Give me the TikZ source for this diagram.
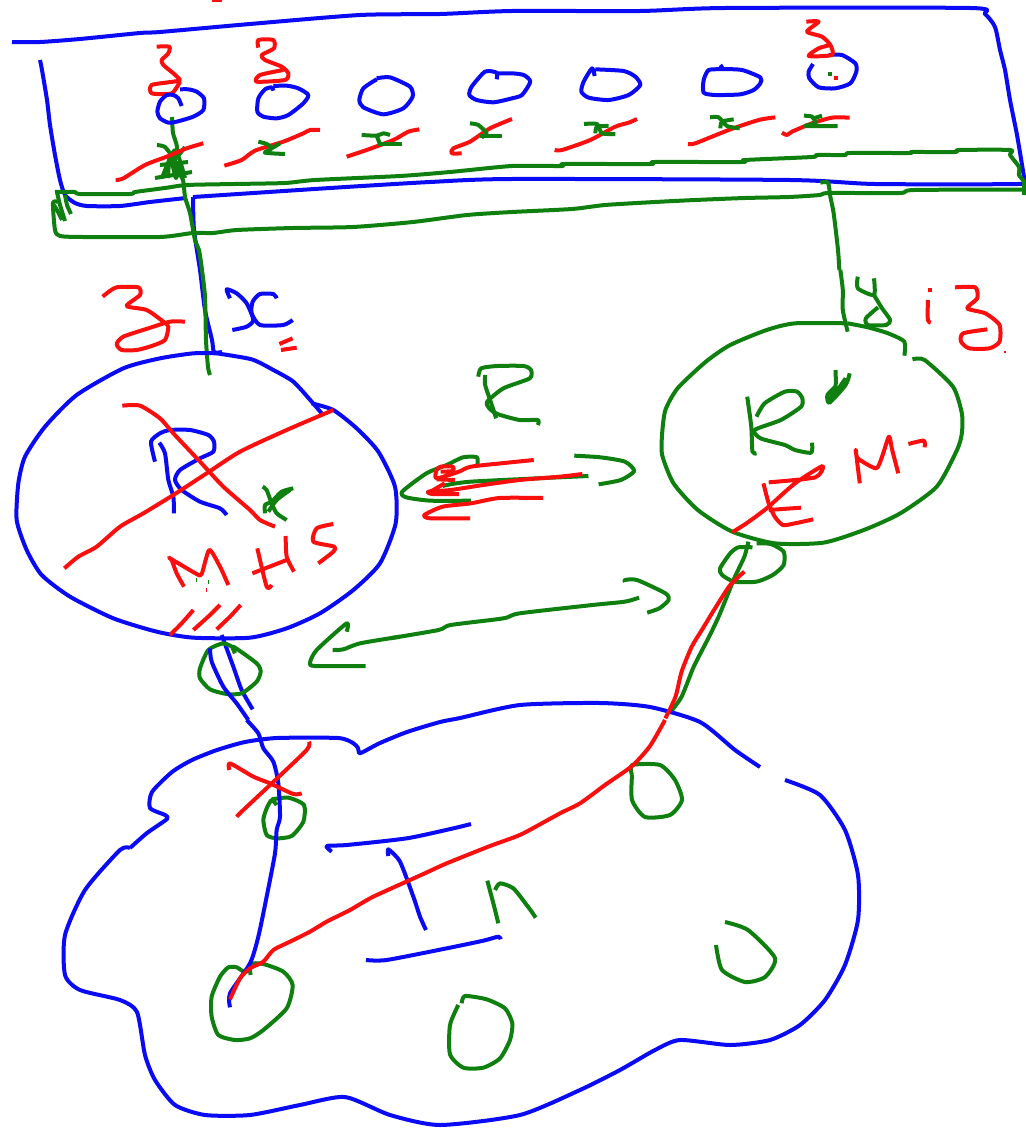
\documentclass[tikz,border=0pt]{standalone}
\definecolor{inkb}{RGB}{10,10,245}
\definecolor{inkg}{RGB}{15,128,15}
\definecolor{inkr}{RGB}{250,15,15}
\tikzset{
 pen/.style={line width=4pt,line join=round,line cap=butt},
 bb/.style={pen,draw=inkb},
 gg/.style={pen,draw=inkg},
 rr/.style={pen,draw=inkr},
 za/.style={xscale=0.33333,yscale=0.33333},
 zb/.style={shift={(512,0)},xscale=0.33333,yscale=0.33333},
 zc/.style={shift={(0,270)},xscale=0.33333,yscale=0.33333},
 zd/.style={shift={(390,270)},xscale=0.405,yscale=0.33333},
 ze/.style={shift={(130,720)},xscale=0.33333,yscale=0.33333}
}
\newcommand{\pl}[2]{\draw[#1] plot[smooth,tension=0.4] coordinates {#2};}
\begin{document}
\begin{tikzpicture}[x=1pt,y=-1pt]
\useasboundingbox (0,0) rectangle (1025,1129);
\fill[white] (0,0) rectangle (1025,1129);
% top box
\pl{bb}{(12,42)(40,42)(80,39)(140,33)(160,32)(250,24)(360,15)(440,14)(512,11)(640,11)(725,8)(970,8)(985,14)(995,27)(1000,50)(1005,70)(1010,100)(1017,135)(1022,165)(1024,180)(1018,184)(875,184)(790,180)(512,179)(430,182)(330,188)(193,197)}
\pl{bb}{(193,197)(194,230)(200,270)(205,310)(212,340)(214,352)(222,352)}
\pl{bb}{(40,60)(42,70)(47,100)(50,125)(55,155)(60,180)(65,195)(75,203)(87,206)(120,206)(150,202)(186,198)}
% top green band
\pl{gg}{(55,192)(75,192)(80,194)(130,194)(135,192)(165,188)(187,185)(235,184)(285,183)(315,180)(400,176)(450,172)(512,166)(562,166)(565,164)(650,164)(655,162)(742,162)(745,160)(812,157)(817,155)(845,155)(850,153)(909,153)(912,152)(955,152)(959,150)(1010,150)(1010,155)(1019,167)(1019,175)(1024,182)(1024,195)}
\pl{gg}{(1024,189.5)(914,190)(900,193)(829,193)(820,195)(789,197)(745,198)(695,200)(655,202)(605,205)(572,209)(512,212)(467,215)(413,222)(353,227)(293,228)(237,230)(213,233)(193,233)(160,237)(83,237)(60,236)(55,230)(53,203)(58,202)}
\pl{gg}{(57,192)(60,205)(65,221)}
\pl{gg}{(65,195)(67,205)(71,214)}
\pl{gg}{(54,205)(58,212)(62,220)}
\pl{gg}{(172,117)(173,133)(177,147)(175,165)(183,180)(185,197)(190,213)(195,240)(199,250)(202,270)(205,297)(206,340)(208,367)(210,375)}
\pl{gg}{(157,145)(165,147)(175,158)(185,147)}
\pl{gg}{(155,178)(192,172)}
\pl{gg}{(160,165)(188,162)}
\pl{gg}{(162,178)(175,150)(185,178)}
\pl{gg}{(168,178)(170,155)(176,178)(180,160)}
\pl{gg}{(165,172)(172,160)(182,172)}
% red bars
\begin{scope}[za]
\pl{rr}{(347,540)(370,535)(435,495)(500,470)(560,445)(610,430)}
\pl{rr}{(673,497)(725,480)(765,452)(850,425)(910,400)(930,390)(960,390)}
\pl{rr}{(1040,470)(1100,450)(1180,420)(1225,395)(1258,388)}
\pl{rr}{(1385,460)(1355,460)(1360,445)(1410,425)(1470,385)(1536,357)}
\pl{gg}{(775,425)(800,432)(815,445)(795,458)(855,462)}
\pl{gg}{(815,445)(840,430)}
\pl{gg}{(1085,405)(1130,407)(1150,400)(1170,405)}
\pl{gg}{(1130,407)(1140,433)}
\pl{gg}{(1135,432)(1205,432)}
\pl{gg}{(1410,370)(1435,375)(1460,400)(1445,412)}
\pl{gg}{(1440,407)(1505,407)}
\pl{rr}{(470,140)(508,140)(505,160)(485,180)(490,195)(520,220)(540,240)(520,245)(455,255)(455,280)(515,280)(540,245)}
\pl{rr}{(775,143)(775,120)(820,120)(822,145)(785,165)(795,180)(845,200)(865,220)(855,240)(770,245)(780,225)(850,210)}
\pl{bb}{(545,318)(535,295)(520,285)(500,285)(480,305)(472,335)(480,355)(505,368)(530,365)(580,350)(610,330)(612,295)(590,275)(565,268)(540,268)}
\pl{bb}{(820,272)(815,262)(795,268)(775,295)(772,335)(790,350)(830,355)(865,345)(910,310)(925,285)(895,265)(860,257)(820,258)}
\pl{bb}{(1130,235)(1170,232)(1230,260)(1238,290)(1210,325)(1150,343)(1090,322)(1078,300)(1090,265)(1130,238)}
\pl{bb}{(1490,238)(1490,218)(1455,215)(1415,260)(1408,285)(1430,300)(1480,307)(1536,295)(1566,285)(1591,245)(1571,225)(1536,220)(1490,220)}
\end{scope}
\begin{scope}[zb]
\pl{rr}{(128,450)(150,450)(235,420)(310,380)(350,368)(375,357)}
\pl{rr}{(528,432)(550,430)(650,390)(740,360)(790,352)}
\pl{rr}{(810,398)(825,405)(840,395)(900,370)(960,353)(1013,353)}
\pl{gg}{(216,372)(255,372)(270,400)(310,402)}
\pl{gg}{(290,378)(255,380)(250,400)}
\pl{gg}{(594,352)(620,352)(645,378)(683,385)}
\pl{gg}{(665,358)(630,365)(625,385)}
\pl{gg}{(876,347)(900,350)(910,370)(880,378)(977,378)}
\pl{gg}{(930,347)(905,355)}
\pl{bb}{(248,228)(240,205)(215,245)(208,275)(230,293)(290,300)(350,285)(385,255)(370,230)(335,213)(250,208)}
\pl{bb}{(625,195)(630,207)(590,210)(575,240)(575,278)(610,285)(685,283)(725,270)(745,250)(745,232)(690,210)(630,207)}
\pl{bb}{(903,192)(890,215)(892,235)(920,262)(970,265)(1015,250)(1033,215)(1030,190)(990,165)(950,165)}
\pl{rr}{(883,65)(920,65)(885,95)(930,110)(955,135)(960,165)(890,168)(920,145)(955,135)}
\fill[inkg] (948,216) rectangle (960,228);
\fill[inkr] (966,228) rectangle (978,240);
\pl{gg}{(925,548)(948,548)(955,590)(965,640)(978,750)(982,810)}
\end{scope}
\fill[inkr] (212,0) rectangle (222,2);
% left circle
\begin{scope}[zc]
\pl{rr}{(308,80)(320,70)(350,52)(415,52)(420,75)(380,108)(440,120)(490,155)(505,170)(495,210)(455,228)(410,240)(365,240)(350,222)(370,200)(445,175)(510,155)(555,155)}
\pl{bb}{(690,85)(680,58)(710,70)(740,100)(760,150)(740,170)(697,180)}
\pl{bb}{(830,85)(820,72)(780,72)(758,95)(755,130)(780,165)(850,165)(878,150)}
\pl{rr}{(838,222)(878,205)}
\pl{rr}{(843,240)(890,233)}
\pl{bb}{(650,250)(755,268)(820,300)(880,335)(935,395)(965,430)}
\pl{bb}{(935,400)(1000,420)(1070,475)(1135,545)(1185,650)(1187,760)(1140,880)(1060,960)(960,1030)(860,1075)(750,1103)(580,1103)(470,1085)(340,1045)(210,980)(125,915)(80,840)(50,750)(55,640)(75,560)(135,470)(230,375)(370,295)(480,265)(580,250)(650,250)}
\pl{bb}{(465,575)(453,515)(480,490)(510,480)(570,480)(625,495)(642,515)(640,545)(600,565)(540,600)(525,630)(545,660)(600,695)(660,715)(680,735)}
\pl{bb}{(478,518)(495,550)(505,630)(520,680)(522,730)}
\pl{rr}{(193,895)(235,860)(290,830)(360,770)(430,730)(520,675)(620,610)(720,545)(860,480)(1000,420)}
\pl{rr}{(367,407)(420,407)(480,445)(520,490)(600,575)(670,650)(750,720)(780,750)(825,770)}
\pl{gg}{(788,650)(800,660)(815,700)(830,730)(860,750)}
\pl{gg}{(880,655)(845,665)(815,695)(795,705)(795,730)}
\pl{gg}{(870,660)(830,690)(805,725)}
\pl{rr}{(552,950)(530,910)(515,870)(510,865)(590,912)(605,912)(628,840)(660,890)(685,945)}
\pl{rr}{(772,835)(800,950)(815,945)}
\pl{rr}{(757,910)(860,870)}
\pl{rr}{(857,798)(860,860)(882,905)}
\pl{rr}{(1000,762)(950,775)(940,815)(1003,830)(1000,845)(955,880)}
\pl{rr}{(510,1095)(545,1060)(580,1020)}
\pl{rr}{(580,1080)(630,1035)(660,1005)}
\pl{rr}{(650,1078)(690,1040)(722,1005)}
\fill[inkg] (588,925) rectangle (591,935);
\fill[inkg] (624,931) rectangle (627,941);
\fill[inkr] (618,955) rectangle (621,965);
\pl{bb}{(665,1095)(700,1190)(725,1260)(758,1318)}
\pl{gg}{(705,1150)(700,1130)(770,1180)(782,1205)(770,1235)(725,1270)(680,1272)(630,1258)(600,1225)(600,1195)(625,1140)(670,1120)(705,1135)}
\pl{bb}{(630,1135)(635,1175)(670,1250)(710,1300)(745,1350)}
\pl{gg}{(1040,1085)(1040,1060)(950,1140)(930,1178)(945,1188)(1097,1188)}
\pl{gg}{(998,1140)(1030,1138)(1080,1120)(1200,1100)}
\end{scope}
% right circle and middle
\begin{scope}[zd]
\pl{gg}{(0,1105)(120,1080)(150,1065)(280,1045)(320,1030)(500,1005)(580,995)(615,983)}
\pl{gg}{(580,935)(580,930)(610,930)(680,970)(688,990)(665,1015)(635,1028)}
\pl{gg}{(218,320)(225,295)(265,288)(330,288)(348,300)(345,325)(280,355)(240,395)(245,415)(265,432)(320,450)(365,450)(365,465)}
\pl{gg}{(235,315)(235,345)(250,400)(262,445)}
\pl{gg}{(215,590)(215,562)(180,562)(140,585)(90,610)(30,665)(40,682)(100,692)(200,692)}
\pl{gg}{(130,648)(200,635)(490,618)}
\pl{gg}{(455,557)(520,562)(580,575)(603,603)(570,630)(515,643)}
\pl{rr}{(355,570)(290,578)(200,590)(170,605)(115,625)(115,600)(125,590)(155,590)(155,603)(125,605)}
\pl{rr}{(115,628)(160,630)}
\pl{rr}{(475,612)(420,620)(320,630)(230,645)(150,660)(95,665)(105,672)(170,672)}
\pl{rr}{(135,640)(100,665)}
\pl{rr}{(378,684)(270,684)(200,700)(130,710)(85,735)(100,745)(198,745)}
\pl{gg}{(1130,160)(1000,160)(930,180)(840,225)(780,275)(710,355)(680,420)(672,490)(672,555)(700,640)(760,720)(845,785)(950,820)(1070,818)(1170,780)(1260,730)(1350,650)(1400,540)(1412,490)(1412,430)(1390,350)(1320,270)(1290,268)}
\pl{gg}{(1270,257)(1270,215)(1230,190)(1180,172)(1130,160)}
\pl{gg}{(1112,0)(1118,60)(1118,120)(1130,185)}
\pl{gg}{(1155,20)(1155,55)(1195,75)(1195,25)}
\pl{gg}{(1195,75)(1215,115)(1235,150)(1225,165)(1180,165)(1175,145)(1205,112)}
\pl{rr}{(1333,55)(1333,65)}
\pl{rr}{(1328,90)(1328,150)(1335,158)}
\pl{rr}{(1395,52)(1445,52)(1450,85)(1425,115)(1470,130)(1505,165)(1505,215)(1480,235)(1430,235)(1410,215)(1415,190)(1475,178)}
\fill[inkr] (1515,242) rectangle (1521,250);
\pl{gg}{(882,380)(892,470)(895,545)(905,550)}
\pl{gg}{(905,440)(925,400)(975,365)(1005,365)(1018,385)(1015,410)(965,450)(900,480)(915,505)(975,525)(1000,540)(1040,548)(1042,518)}
\pl{gg}{(1100,300)(1100,350)(1085,390)}
\pl{gg}{(1135,310)(1125,345)(1085,398)(1080,375)(1100,350)}
\pl{gg}{(1125,325)(1105,360)(1090,385)}
\pl{rr}{(1160,640)(1150,540)(1155,565)(1200,595)(1215,560)(1232,500)(1240,540)(1255,610)}
\pl{rr}{(1280,522)(1318,512)(1320,532)}
\pl{rr}{(935,637)(1050,622)(1068,588)(1000,640)(930,715)(880,760)(845,787)}
\pl{rr}{(922,640)(935,700)(950,740)(970,765)(1000,760)(1045,748)}
\pl{rr}{(935,720)(1015,713)}
\pl{gg}{(905,820)(940,822)(972,845)(972,885)(945,915)(905,935)(850,935)(820,915)(815,895)(840,850)(860,832)(895,832)}
\pl{gg}{(885,815)(875,860)(850,925)(815,1030)(790,1095)(750,1190)(720,1280)(690,1330)}
\end{scope}
% cloud
\pl{bb}{(130,848)(147,833)(167,819)(165,815)(150,808)(152,792)(172,772)(192,760)(217,750)(245,742)(277,738)(338,738)(353,743)(358,748)(359,753)(363,752)(380,743)(407,732)(440,722)(460,718)(520,705)(600,703)(650,707)(700,722)(735,750)(760,767)}
\pl{bb}{(785,780)(820,795)(845,830)(858,875)(858,920)(845,965)(825,1000)(800,1025)(770,1040)(730,1045)(680,1040)(655,1050)(620,1070)(580,1090)(520,1115)(440,1125)(390,1115)(345,1097)(300,1105)(250,1115)(205,1115)(175,1105)(155,1080)(145,1055)(137,1012)(120,1000)(80,990)(65,975)(65,935)(85,890)(120,850)(130,848)}
\begin{scope}[ze]
\pl{gg}{(440,255)(425,240)(410,265)(400,300)(410,345)(440,355)(485,348)(520,305)(522,255)(475,233)(425,238)}
\pl{gg}{(340,755)(320,742)(295,742)(270,770)(245,830)(245,890)(265,945)(315,960)(360,955)(400,930)(470,865)(488,795)(460,755)(400,732)(360,732)(362,765)}
\pl{bb}{(350,0)(385,40)(400,85)(430,125)(445,190)(450,290)(440,330)(435,400)(410,530)(385,650)(360,730)(300,820)(300,862)}
\pl{rr}{(298,150)(300,130)(370,170)(420,190)(490,222)(515,220)}
\pl{rr}{(320,290)(340,270)(420,195)(530,90)(537,65)}
\pl{bb}{(1023,312)(970,325)(830,355)(650,375)(590,378)(605,395)}
\pl{bb}{(775,408)(775,388)(810,425)(850,530)(870,590)(888,630)}
\pl{bb}{(708,720)(770,720)(950,685)(1060,662)(1105,650)(1112,658)}
\pl{gg}{(1072,482)(1090,550)(1105,610)}
\pl{gg}{(1095,510)(1110,490)(1150,505)(1190,555)(1205,575)(1217,593)}
\pl{gg}{(995,850)(1005,828)(1070,838)(1125,865)(1147,910)(1140,960)(1110,1015)(1060,1043)(1000,1043)(960,1003)(960,915)(985,855)}
\end{scope}
\pl{gg}{(632,775)(632,765)(660,765)(675,780)(682,800)(670,815)(645,817)(632,800)(632,775)}
\pl{gg}{(725,922)(748,930)(775,958)(765,977)(745,982)(722,970)(716,945)}
% long red line
\begin{scope}[ze]
\pl{rr}{(300,838)(330,775)(360,745)(400,725)(430,690)(480,665)(540,635)(590,605)(660,570)(730,530)(880,462)(950,430)(1080,378)(1130,360)(1180,340)(1290,280)(1350,250)(1425,195)(1506,138)(1560,78)(1605,0)}
\end{scope}
\begin{scope}[zd]
\pl{rr}{(680,1345)(705,1280)(720,1205)(745,1130)(770,1080)(800,1020)(840,945)(875,905)}
\end{scope}
\end{tikzpicture}
\end{document}
